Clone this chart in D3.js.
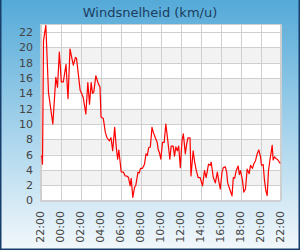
<!DOCTYPE html>
<html><head><meta charset="utf-8">
<script src="https://cdn.jsdelivr.net/npm/d3@7/dist/d3.min.js"></script>
<style>html,body{margin:0;padding:0;}svg{display:block;}</style>
</head><body>
<svg id="chart" width="300" height="250"></svg>
<script>
const title = "Windsnelheid (km/u)";
// minutes since 22:00
const minutes = [3,8,12,18,32,48,74,92,102,113,125,137,153,165,177,189,197,210,216,238,244,256,272,284,294,304,312,320,332,345,357,363,377,389,399,413,423,433,445,455,463,470,478,484,498,508,518,528,538,544,554,564,572,585,593,600,612,624,633,641,649,659,669,677,689,700,706,714,722,732,742,752,764,776,784,796,804,812,821,829,839,849,857,869,877,885,897,903,916,925,935,946,958,972,984,994,1008,1018,1024,1037,1049,1061,1069,1079,1089,1097,1109,1117,1123,1135,1149,1157,1165,1174,1186,1193,1200,1212,1220,1230,1240,1252,1260,1272,1280,1290,1300,1310,1320,1326,1336,1344,1352,1360,1368,1376,1384,1390,1396,1404,1412,1420,1428,1436,1440];
const speed = [5.8,5.8,4.75,20.9,22.9,14.1,10.0,16.1,14.8,19.4,15.5,15.5,17.8,13.3,19.8,18.5,17.7,18.7,18.6,14.4,14.1,13.5,11.3,15.4,12.6,15.4,14.0,14.2,16.3,15.4,14.8,10.9,10.7,8.9,8.2,7.8,8.2,6.5,9.55,6.9,5.4,6.6,5.0,3.75,3.7,3.2,3.2,3.0,1.9,2.9,0.4,1.7,2.0,3.7,3.6,4.2,4.2,4.75,6.1,5.9,6.9,7.0,9.55,8.9,8.2,7.6,6.7,6.2,5.4,7.6,7.6,10.0,7.8,5.4,7.1,7.1,5.8,7.0,6.5,7.1,4.3,7.8,8.7,6.1,7.4,8.2,8.2,3.2,6.5,5.0,3.9,3.0,3.0,1.9,3.9,3.0,4.75,4.6,5.0,3.0,2.3,3.7,2.6,1.5,3.7,4.3,4.4,3.7,2.3,1.5,0.6,3.0,2.9,3.9,4.5,3.4,3.9,2.6,1.1,1.5,4.1,3.5,4.6,4.2,4.8,5.2,6.1,6.6,5.7,4.6,4.7,2.6,1.3,0.65,3.9,5.2,6.3,7.2,5.3,5.7,5.5,5.4,5.2,4.9,4.9];
const xTickMinutes = [0,120,240,360,480,600,720,840,960,1080,1200,1320,1440];
const xTickLabels = ["22:00","00:00","02:00","04:00","06:00","08:00","10:00","12:00","14:00","16:00","18:00","20:00","22:00"];
const yTicks = [0,2,4,6,8,10,12,14,16,18,20,22];

const svg = d3.select("#chart");
const W = 300, H = 250;
const defs = svg.append("defs");
const grad = defs.append("linearGradient").attr("id","bg").attr("x1",0).attr("y1",0).attr("x2",0).attr("y2",1);
grad.append("stop").attr("offset","0%").attr("stop-color","#55aad8");
grad.append("stop").attr("offset","50%").attr("stop-color","#a2d1eb");
grad.append("stop").attr("offset","100%").attr("stop-color","#f3f8fb");
svg.append("rect").attr("width",W).attr("height",H).attr("fill","url(#bg)");
// frame
svg.append("path").attr("d","M0.75,0 V249.25 H299.25 V0").attr("fill","none").attr("stroke","#173e6b").attr("stroke-width",1.5);

const x = d3.scaleLinear().domain([0,1440]).range([40.5,280.5]);
const y = d3.scaleLinear().domain([0,23]).range([200.5,24.5]);

svg.append("text").attr("x",150).attr("y",17).attr("text-anchor","middle")
  .attr("font-family","DejaVu Sans").attr("font-size",13).attr("fill","#1b3d5e").text(title);

// plot bg
svg.append("rect").attr("x",x(0)).attr("y",y(23)).attr("width",x(1440)-x(0)).attr("height",y(0)-y(23)).attr("fill","#ffffff");
// bands
const bands = yTicks.filter((d,i)=> i%2===1 && d+2<=22);
svg.selectAll("rect.band").data(bands).enter().append("rect").attr("class","band")
  .attr("x",x(0)).attr("width",x(1440)-x(0)).attr("y",d=>y(d+2)).attr("height",d=>y(d)-y(d+2)).attr("fill","#f2f2f2");
// grid
const grid = svg.append("g").attr("stroke","#cfcfcf").attr("stroke-width",1);
grid.selectAll("line.h").data(yTicks).enter().append("line")
  .attr("x1",x(0)).attr("x2",x(1440)).attr("y1",d=>Math.round(y(d))+0.5).attr("y2",d=>Math.round(y(d))+0.5);
grid.selectAll("line.v").data(xTickMinutes).enter().append("line")
  .attr("x1",d=>Math.round(x(d))+0.5).attr("x2",d=>Math.round(x(d))+0.5).attr("y1",y(23)).attr("y2",y(0));
svg.append("rect").attr("x",x(0)).attr("y",y(23)).attr("width",x(1440)-x(0)).attr("height",y(0)-y(23))
  .attr("fill","none").attr("stroke","#cfcfcf");

// y labels
svg.selectAll("text.yl").data(yTicks).enter().append("text")
  .attr("x",33).attr("y",d=>y(d)).attr("dy","0.36em").attr("text-anchor","end")
  .attr("font-family","DejaVu Sans").attr("font-size",11).attr("fill","#444").text(d=>d);
// x labels
svg.selectAll("text.xl").data(xTickMinutes).enter().append("text")
  .attr("transform",d=>`translate(${x(d)},211) rotate(-90)`).attr("dy","0.36em").attr("text-anchor","end")
  .attr("font-family","DejaVu Sans").attr("font-size",11).attr("fill","#444").text((d,i)=>xTickLabels[i]);

const data = minutes.map((m,i)=>[m,speed[i]]);
svg.append("path").datum(data).attr("fill","none").attr("stroke","#ff0000").attr("stroke-width",1.2)
  .attr("stroke-linejoin","round")
  .attr("d",d3.line().x(d=>x(d[0])).y(d=>y(d[1])));
</script>
</body></html>
